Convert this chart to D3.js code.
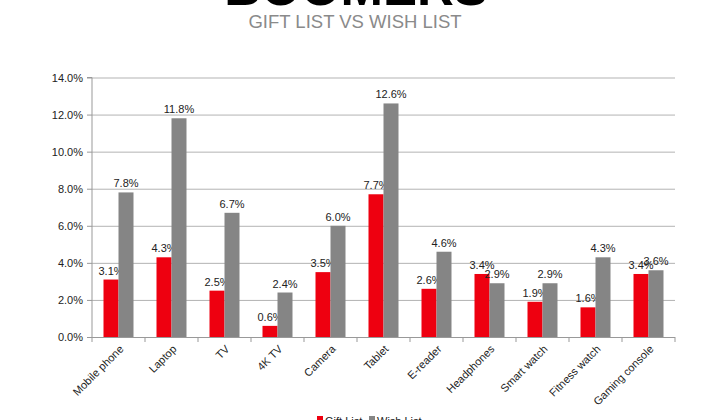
<!DOCTYPE html>
<html><head><meta charset="utf-8">
<script src="https://cdn.jsdelivr.net/npm/d3@7"></script>
<style>html,body{margin:0;padding:0;background:#fff;overflow:hidden}</style>
</head><body>
<svg id="c" width="726" height="420"></svg>
<script>
const categories = ["Mobile phone","Laptop","TV","4K TV","Camera","Tablet","E-reader","Headphones","Smart watch","Fitness watch","Gaming console"];
const giftList = [3.1,4.3,2.5,0.6,3.5,7.7,2.6,3.4,1.9,1.6,3.4];
const wishList = [7.8,11.8,6.7,2.4,6.0,12.6,4.6,2.9,2.9,4.3,3.6];
const yTicks = [0,2,4,6,8,10,12,14];
const seriesNames = ["Gift List","Wish List"];
const colors = ["#ee0010","#858585"];

const svg = d3.select("#c");
const font = "Liberation Sans, Arial, sans-serif";
const m = {l:92, r:675, t:77.5, b:337};
const x = d3.scaleBand().domain(categories).range([m.l,m.r]);
const y = d3.scaleLinear().domain([0,14]).range([m.b,m.t]);
const barW = 15;

// title
svg.append("text").attr("x",356).attr("y",5).attr("text-anchor","middle")
  .attr("font-family",font).attr("font-weight","bold").attr("font-size",51).attr("fill","#000").text("BOOMERS");
svg.append("text").attr("x",355).attr("y",28).attr("text-anchor","middle")
  .attr("font-family",font).attr("font-size",18.5).attr("fill","#8a8a8a").text("GIFT LIST VS WISH LIST");

// grid
svg.append("g").selectAll("line").data(yTicks.slice(1)).join("line")
  .attr("x1",m.l).attr("x2",m.r).attr("y1",d=>y(d)+0.5).attr("y2",d=>y(d)+0.5)
  .attr("stroke","#b3b3b3").attr("stroke-width",1);

// y axis
const ya = svg.append("g").attr("transform",`translate(${m.l},0)`)
  .call(d3.axisLeft(y).tickValues(yTicks).tickFormat(d=>d.toFixed(1)+"%").tickSize(5).tickPadding(4));
ya.select(".domain").attr("stroke","#999").attr("d",`M-5,${m.t}H0V${m.b}`);
ya.selectAll(".tick line").attr("stroke","#999");
ya.selectAll("text").attr("font-family",font).attr("font-size",11).attr("fill","#222");

// bars
const series = [giftList, wishList];
series.forEach((vals,si)=>{
  const g = svg.append("g");
  g.selectAll("rect").data(vals).join("rect")
    .attr("x",(d,i)=>x(categories[i])+x.bandwidth()/2 - barW + si*barW)
    .attr("y",d=>y(d)).attr("width",barW).attr("height",d=>y(0)-y(d))
    .attr("fill",colors[si]);
  g.selectAll("text").data(vals).join("text")
    .attr("x",(d,i)=>x(categories[i])+x.bandwidth()/2 - barW/2 + si*barW)
    .attr("y",d=>y(d)-5).attr("text-anchor","middle")
    .attr("font-family",font).attr("font-size",11).attr("fill","#222")
    .text(d=>d.toFixed(1)+"%");
});

// x axis
const xa = svg.append("g").attr("transform",`translate(0,${m.b})`);
xa.append("line").attr("x1",m.l).attr("x2",m.r).attr("y1",0.5).attr("y2",0.5).attr("stroke","#999");
const bounds = categories.map(c=>x(c)).concat([m.r]);
xa.selectAll("line.t").data(bounds).join("line").attr("class","t")
  .attr("x1",d=>d).attr("x2",d=>d).attr("y1",0).attr("y2",5).attr("stroke","#999");
xa.selectAll("text").data(categories).join("text")
  .attr("transform",d=>`translate(${x(d)+x.bandwidth()/2+3},${10}) rotate(-45)`)
  .attr("text-anchor","end").attr("dy","0.35em")
  .attr("font-family",font).attr("font-size",11).attr("fill","#222").text(d=>d);

// legend
const lg = svg.append("g").attr("transform","translate(317,417)");
seriesNames.forEach((n,i)=>{
  const ox = i*52;
  lg.append("rect").attr("x",ox).attr("y",-1).attr("width",6).attr("height",6).attr("fill",colors[i]);
  lg.append("text").attr("x",ox+8).attr("y",8).attr("font-family",font).attr("font-size",11).attr("fill","#222").text(n);
});
</script>
</body></html>
